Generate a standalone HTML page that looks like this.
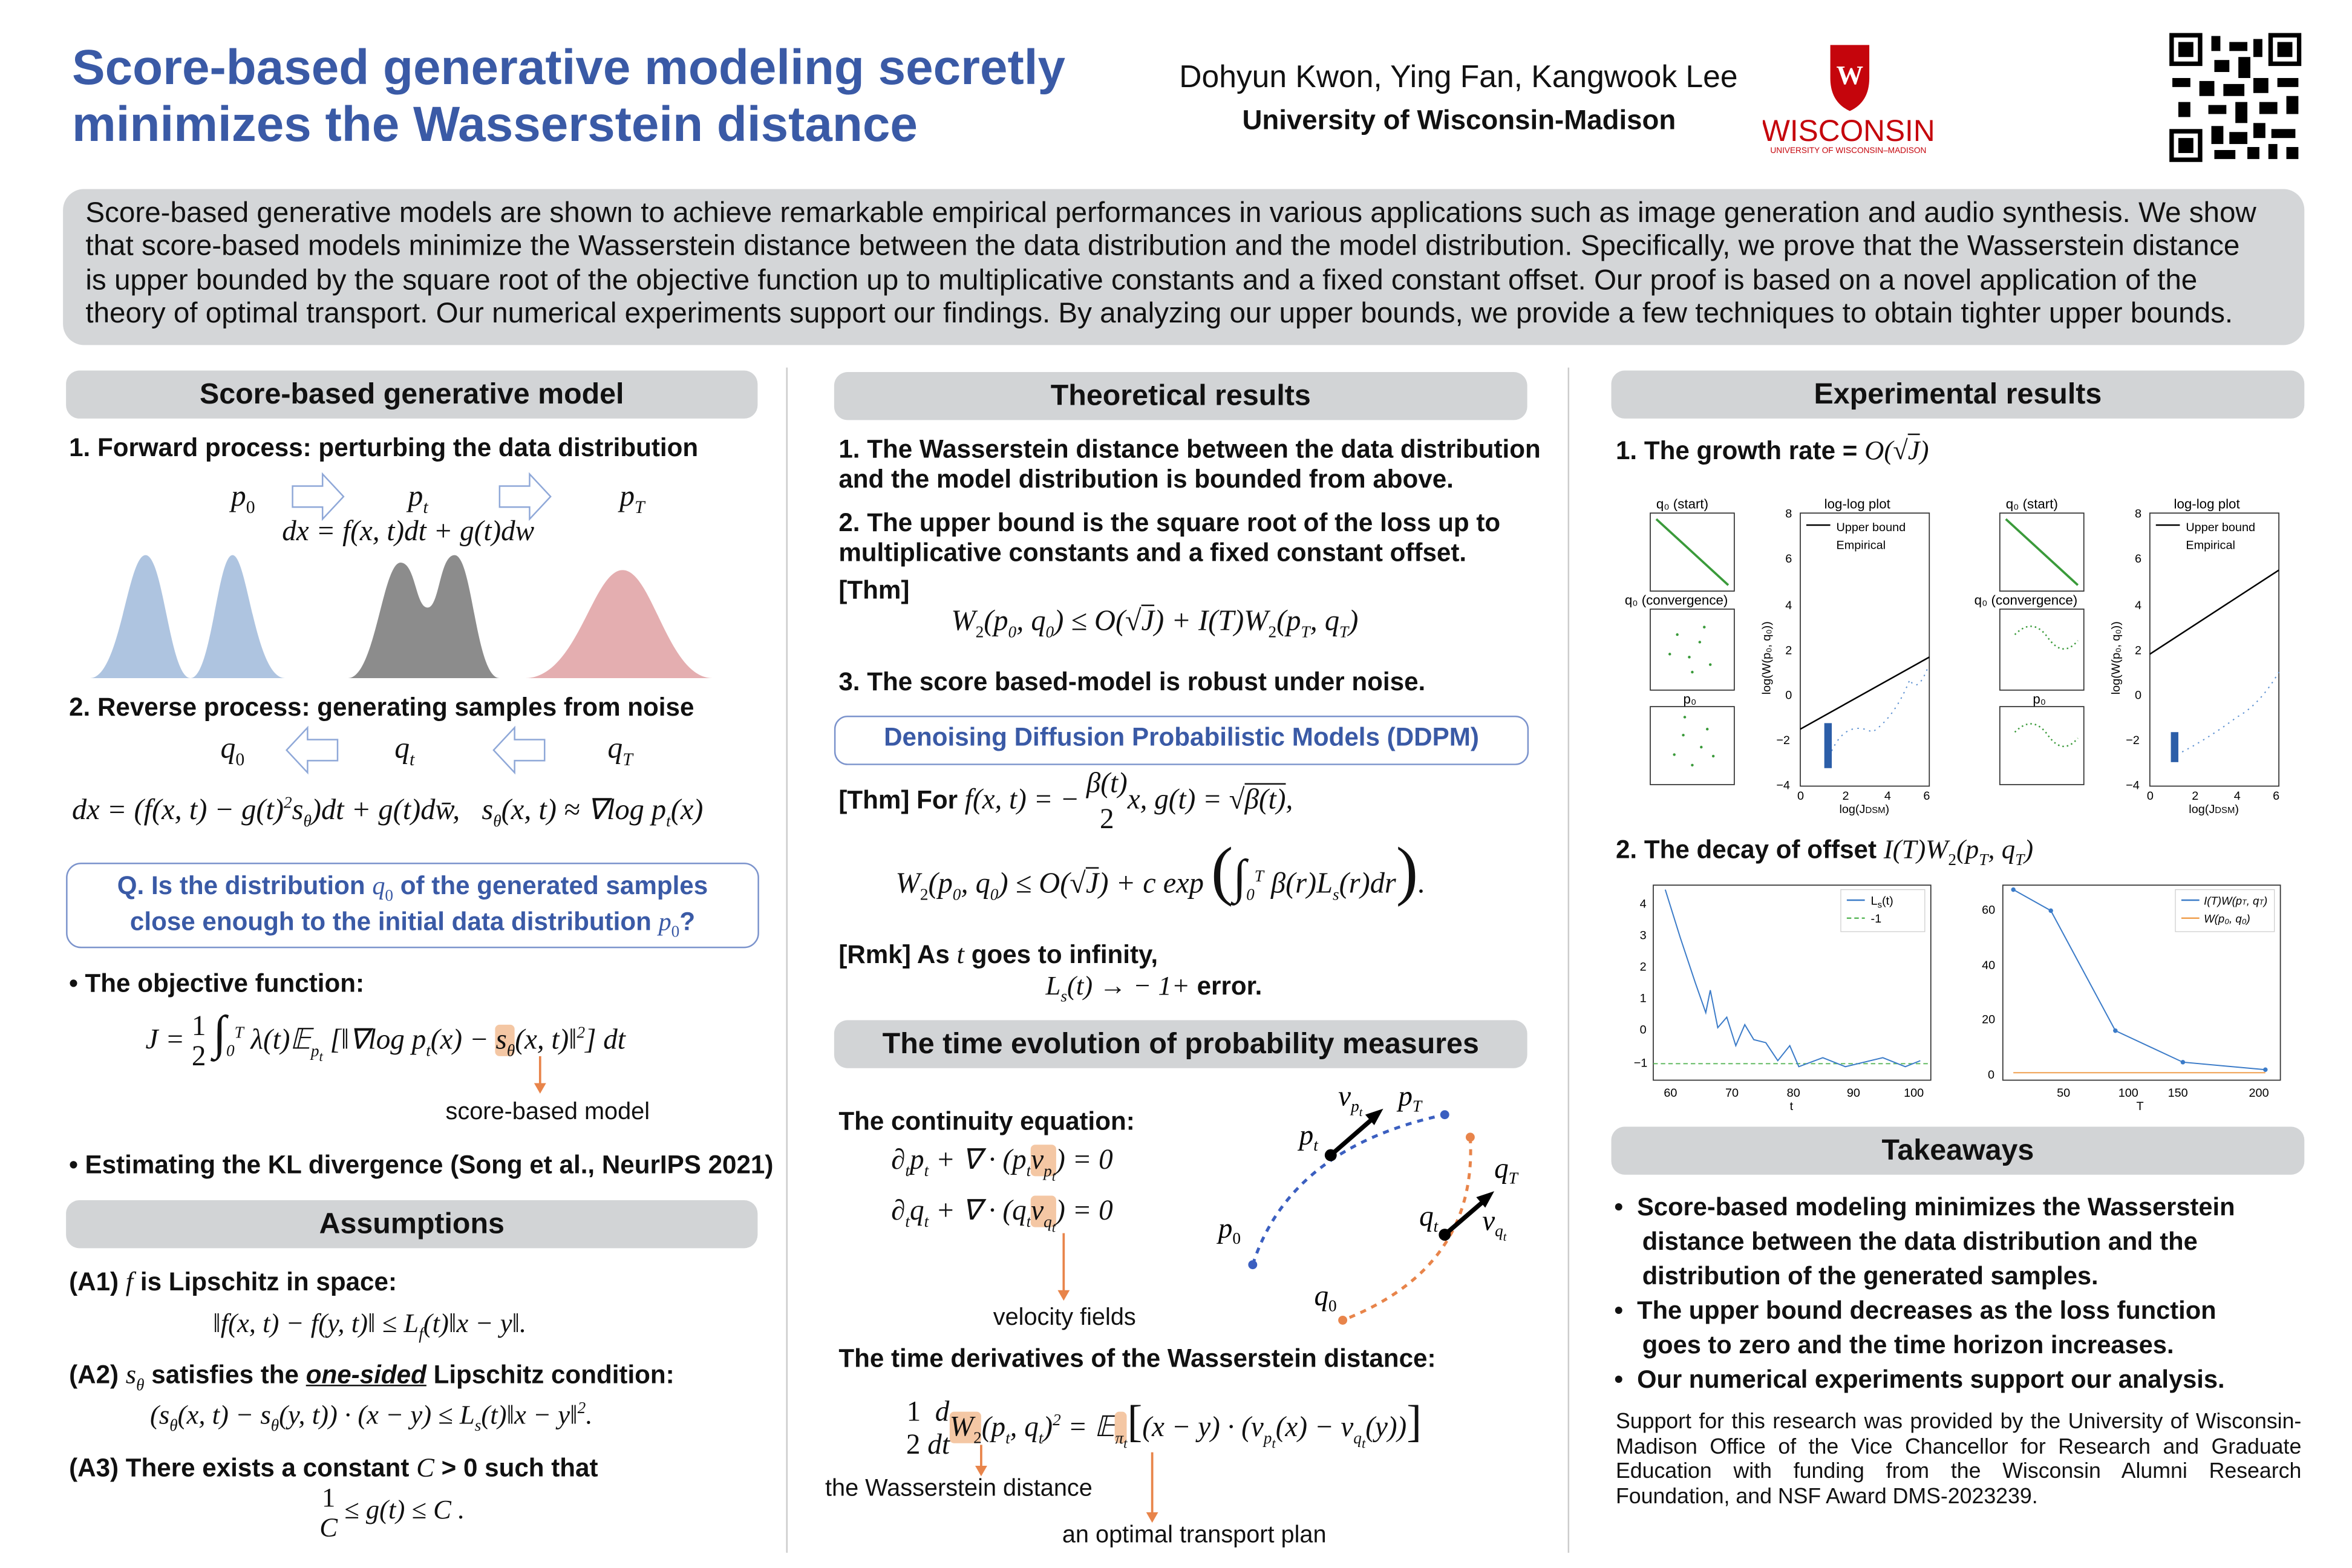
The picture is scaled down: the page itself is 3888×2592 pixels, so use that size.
<!DOCTYPE html>
<html><head><meta charset="utf-8">
<style>
html,body{margin:0;padding:0;background:#fff;width:3888px;height:2592px;overflow:hidden}
#p{position:absolute;left:0;top:0;width:1568px;height:1045px;transform:scale(2.48);transform-origin:0 0;font-family:"Liberation Sans",sans-serif;color:#111}
.a{position:absolute;white-space:nowrap}
.b{font-weight:bold}
.hd{position:absolute;background:#d2d4d6;border-radius:9px;height:32px;line-height:32px;text-align:center;font-weight:bold;font-size:19.5px}
.m{font-family:"Liberation Serif",serif;font-style:italic}
.t{font-size:17px;font-weight:bold}
.vl{position:absolute;width:1px;background:#ccc;top:245px;height:790px}
.hl{background:#f4c7a4;border-radius:3px}
</style></head><body><div id="p">
<div class="a b" style="left:48px;top:26px;font-size:33px;line-height:38px;color:#3a5aa6">Score-based generative modeling secretly<br>minimizes the Wasserstein distance</div>
<div class="a" style="left:786px;top:40px;font-size:20.8px">Dohyun Kwon, Ying Fan, Kangwook Lee</div>
<div class="a b" style="left:828px;top:69px;font-size:18.4px">University of Wisconsin-Madison</div>
<svg class="a" style="left:1175px;top:26px" width="115" height="80"><path d="M45 4 h26 v22 q0 16 -13 22 q-13 -6 -13 -22z" fill="#c5050c"/><text x="58" y="30" fill="#fff" font-size="18" font-weight="bold" text-anchor="middle" font-family="Liberation Serif">W</text><text x="57" y="68" fill="#c5050c" font-size="20" text-anchor="middle" font-family="Liberation Sans">WISCONSIN</text><text x="57" y="76" fill="#c5050c" font-size="5.5" text-anchor="middle">UNIVERSITY OF WISCONSIN–MADISON</text></svg>
<svg class="a" style="left:1446px;top:22px" width="88" height="86"><rect width="88" height="86" fill="#fff"/><g fill="#000"><rect x="0" y="0" width="22" height="22"/><rect x="66" y="0" width="22" height="22"/><rect x="0" y="64" width="22" height="22"/></g><g fill="#fff"><rect x="3" y="3" width="16" height="16"/><rect x="69" y="3" width="16" height="16"/><rect x="3" y="67" width="16" height="16"/></g><g fill="#000"><rect x="6" y="6" width="10" height="10"/><rect x="72" y="6" width="10" height="10"/><rect x="6" y="70" width="10" height="10"/><rect x="28" y="2" width="6" height="10"/><rect x="40" y="6" width="12" height="6"/><rect x="30" y="18" width="10" height="8"/><rect x="46" y="16" width="8" height="14"/><rect x="56" y="4" width="6" height="12"/><rect x="2" y="30" width="12" height="6"/><rect x="20" y="32" width="10" height="10"/><rect x="36" y="34" width="14" height="8"/><rect x="56" y="30" width="10" height="10"/><rect x="72" y="30" width="14" height="6"/><rect x="6" y="46" width="8" height="10"/><rect x="26" y="48" width="12" height="6"/><rect x="44" y="46" width="8" height="14"/><rect x="60" y="46" width="12" height="8"/><rect x="78" y="42" width="8" height="12"/><rect x="28" y="62" width="8" height="12"/><rect x="40" y="66" width="12" height="8"/><rect x="56" y="60" width="8" height="10"/><rect x="68" y="64" width="16" height="6"/><rect x="30" y="78" width="14" height="6"/><rect x="52" y="76" width="8" height="8"/><rect x="66" y="74" width="6" height="10"/><rect x="78" y="76" width="8" height="8"/></g></svg>

<div class="a" style="left:42px;top:126px;width:1494px;height:104px;background:#d4d6d8;border-radius:14px"></div>
<div class="a" style="left:57px;top:132px;font-size:19.2px;line-height:22.3px">Score-based generative models are shown to achieve remarkable empirical performances in various applications such as image generation and audio synthesis. We show<br>that score-based models minimize the Wasserstein distance between the data distribution and the model distribution. Specifically, we prove that the Wasserstein distance<br>is upper bounded by the square root of the objective function up to multiplicative constants and a fixed constant offset. Our proof is based on a novel application of the<br>theory of optimal transport. Our numerical experiments support our findings. By analyzing our upper bounds, we provide a few techniques to obtain tighter upper bounds.</div>

<div class="vl" style="left:524px"></div><div class="vl" style="left:1045px"></div>

<!-- Column 1 -->
<div class="hd" style="left:44px;top:247px;width:461px">Score-based generative model</div>
<div class="a t" style="left:46px;top:289px">1. Forward process: perturbing the data distribution</div>
<div class="a m" style="left:154px;top:320px;font-size:20px">p<sub style="font-style:normal;font-size:12px">0</sub></div>
<div class="a m" style="left:272px;top:320px;font-size:20px">p<sub style="font-size:12px">t</sub></div>
<div class="a m" style="left:413px;top:320px;font-size:20px">p<sub style="font-size:12px">T</sub></div>
<svg class="a" style="left:190px;top:314px" width="190" height="34"><path d="M5 10h20v-8l14 15-14 15v-8h-20z" fill="#fff" stroke="#8fa8d8"/><path d="M143 10h20v-8l14 15-14 15v-8h-20z" fill="#fff" stroke="#8fa8d8"/></svg>
<div class="a m" style="left:188px;top:344px;font-size:19px">dx = f(x, t)dt + g(t)dw</div>
<svg class="a" style="left:55px;top:365px" width="430" height="90"><path d="M5 87 C25 87 30 5 42 5 C54 5 58 87 72 87 C86 87 90 5 100 5 C110 5 115 87 135 87Z" fill="#aec4e0"/><path d="M177 87 C195 87 200 10 212 10 C222 10 222 40 230 40 C238 40 238 5 248 5 C260 5 262 87 278 87Z" fill="#8c8c8c"/><path d="M295 87 C330 87 340 15 360 15 C380 15 390 87 420 87Z" fill="#e4aeb0"/></svg>
<div class="a t" style="left:46px;top:462px">2. Reverse process: generating samples from noise</div>
<div class="a m" style="left:147px;top:488px;font-size:20px">q<sub style="font-style:normal;font-size:12px">0</sub></div>
<div class="a m" style="left:263px;top:488px;font-size:20px">q<sub style="font-size:12px">t</sub></div>
<div class="a m" style="left:405px;top:488px;font-size:20px">q<sub style="font-size:12px">T</sub></div>
<svg class="a" style="left:186px;top:482px" width="190" height="36"><path d="M39 11h-20v-8l-14 15 14 15v-8h20z" fill="#fff" stroke="#8fa8d8"/><path d="M177 11h-20v-8l-14 15 14 15v-8h20z" fill="#fff" stroke="#8fa8d8"/></svg>
<div class="a m" style="left:48px;top:528px;font-size:19.5px">dx = (f(x, t) − g(t)<sup style="font-size:11px">2</sup>s<sub style="font-size:11px">θ</sub>)dt + g(t)dw̄,&nbsp;&nbsp; s<sub style="font-size:11px">θ</sub>(x, t) ≈ ∇log p<sub style="font-size:11px">t</sub>(x)</div>
<div class="a" style="left:44px;top:575px;width:460px;height:55px;border:1.2px solid #7b93cc;border-radius:10px"></div>
<div class="a b" style="left:44px;top:579px;width:462px;text-align:center;font-size:17px;line-height:24px;color:#3a5aa6">Q. Is the distribution <span class="m" style="font-weight:normal">q<sub style="font-size:11px;font-style:normal;line-height:0">0</sub></span> of the generated samples<br>close enough to the initial data distribution <span class="m" style="font-weight:normal">p<sub style="font-size:11px;font-style:normal;line-height:0">0</sub></span>?</div>
<div class="a t" style="left:46px;top:646px">• The objective function:</div>
<div class="a m" style="left:97px;top:668px;font-size:19px;line-height:40px">J = <span style="display:inline-block;text-align:center;vertical-align:middle;line-height:20px;font-style:normal">1<br>2</span> <span style="font-size:32px;font-style:normal">∫</span><sub style="font-size:11px">0</sub><sup style="font-size:11px">T</sup> λ(t)𝔼<sub style="font-size:11px">p<sub>t</sub></sub> [‖∇log p<sub style="font-size:11px">t</sub>(x) − <span class="hl">s<sub style="font-size:11px">θ</sub></span>(x, t)‖<sup style="font-size:11px">2</sup>] dt</div>
<svg class="a" style="left:354px;top:704px" width="12" height="26"><path d="M6 0v20" stroke="#e8844a" stroke-width="1.5"/><path d="M2 18l4 7 4-7z" fill="#e8844a"/></svg>
<div class="a" style="left:297px;top:733px;font-size:16px">score-based model</div>
<div class="a t" style="left:46px;top:767px">• Estimating the KL divergence (Song et al., NeurIPS 2021)</div>
<div class="hd" style="left:44px;top:800px;width:461px">Assumptions</div>
<div class="a t" style="left:46px;top:844px">(A1) <span class="m" style="font-weight:normal;font-size:18px">f</span> is Lipschitz in space:</div>
<div class="a m" style="left:142px;top:872px;font-size:18px">‖f(x, t) − f(y, t)‖ ≤ L<sub style="font-size:11px">f</sub>(t)‖x − y‖.</div>
<div class="a t" style="left:46px;top:906px">(A2) <span class="m" style="font-weight:normal;font-size:18px">s<sub style="font-size:11px">θ</sub></span> satisfies the <i><u>one-sided</u></i> Lipschitz condition:</div>
<div class="a m" style="left:100px;top:933px;font-size:18px">(s<sub style="font-size:11px">θ</sub>(x, t) − s<sub style="font-size:11px">θ</sub>(y, t)) · (x − y) ≤ L<sub style="font-size:11px">s</sub>(t)‖x − y‖<sup style="font-size:11px">2</sup>.</div>
<div class="a t" style="left:46px;top:968px">(A3) There exists a constant <span class="m" style="font-weight:normal;font-size:18px">C</span> &gt; 0 such that</div>
<div class="a m" style="left:213px;top:986px;font-size:18px;line-height:40px"><span style="display:inline-block;text-align:center;vertical-align:middle;line-height:20px;font-style:normal">1<br><i>C</i></span> ≤ g(t) ≤ C .</div>

<!-- Column 2 -->
<div class="hd" style="left:556px;top:248px;width:462px">Theoretical results</div>
<div class="a t" style="left:559px;top:290px;line-height:20px">1. The Wasserstein distance between the data distribution<br>and the model distribution is bounded from above.</div>
<div class="a t" style="left:559px;top:339px;line-height:20px">2. The upper bound is the square root of the loss up to<br>multiplicative constants and a fixed constant offset.</div>
<div class="a t" style="left:559px;top:384px">[Thm]</div>
<div class="a m" style="left:634px;top:404px;font-size:19.5px">W<sub style="font-size:11px;font-style:normal">2</sub>(p<sub style="font-size:11px">0</sub>, q<sub style="font-size:11px">0</sub>) ≤ O(√<span style="text-decoration:overline">J</span>) + I(T)W<sub style="font-size:11px;font-style:normal">2</sub>(p<sub style="font-size:11px">T</sub>, q<sub style="font-size:11px">T</sub>)</div>
<div class="a t" style="left:559px;top:445px">3. The score based-model is robust under noise.</div>
<div class="a" style="left:556px;top:477px;width:461px;height:31px;border:1.2px solid #7b93cc;border-radius:9px"></div>
<div class="a b" style="left:556px;top:482px;width:463px;text-align:center;font-size:17px;color:#3a5aa6">Denoising Diffusion Probabilistic Models (DDPM)</div>
<div class="a" style="left:559px;top:510px;font-size:17px;line-height:48px"><b>[Thm] For</b> <span class="m" style="font-size:19px">f(x, t) = − <span style="display:inline-block;text-align:center;vertical-align:middle;line-height:24px">β(t)<br><span style="font-style:normal">2</span></span>x, g(t) = √<span style="text-decoration:overline">β(t)</span>,</span></div>
<div class="a m" style="left:597px;top:556px;font-size:19.5px;line-height:50px">W<sub style="font-size:11px;font-style:normal">2</sub>(p<sub style="font-size:11px">0</sub>, q<sub style="font-size:11px">0</sub>) ≤ O(√<span style="text-decoration:overline">J</span>) + c exp <span style="font-size:44px;font-style:normal">(</span><span style="font-size:32px;font-style:normal">∫</span><sub style="font-size:11px">0</sub><sup style="font-size:11px">T</sup> β(r)L<sub style="font-size:11px">s</sub>(r)dr<span style="font-size:44px;font-style:normal">)</span>.</div>
<div class="a t" style="left:559px;top:626px">[Rmk] As <span class="m" style="font-weight:normal;font-size:18px">t</span> goes to infinity,</div>
<div class="a" style="left:697px;top:647px;font-size:17px;font-weight:bold"><span class="m" style="font-weight:normal;font-size:18px">L<sub style="font-size:11px">s</sub>(t) → − 1+</span> error.</div>
<div class="hd" style="left:556px;top:680px;width:462px">The time evolution of probability measures</div>
<div class="a t" style="left:559px;top:738px">The continuity equation:</div>
<div class="a m" style="left:594px;top:762px;font-size:19px">∂<sub style="font-size:11px">t</sub>p<sub style="font-size:11px">t</sub> + ∇ · (p<sub style="font-size:11px">t</sub><span class="hl">v<sub style="font-size:11px">p<sub>t</sub></sub></span>) = 0</div>
<div class="a m" style="left:594px;top:796px;font-size:19px">∂<sub style="font-size:11px">t</sub>q<sub style="font-size:11px">t</sub> + ∇ · (q<sub style="font-size:11px">t</sub><span class="hl">v<sub style="font-size:11px">q<sub>t</sub></sub></span>) = 0</div>
<svg class="a" style="left:703px;top:822px" width="12" height="46"><path d="M6 0v40" stroke="#e8844a" stroke-width="1.5"/><path d="M2 38l4 7 4-7z" fill="#e8844a"/></svg>
<div class="a" style="left:662px;top:870px;font-size:16px">velocity fields</div>
<svg class="a" style="left:800px;top:715px" width="230" height="180">
<path d="M35 128 Q60 50 163 28" fill="none" stroke="#3b5fc0" stroke-width="2" stroke-dasharray="4,4"/>
<circle cx="35" cy="128" r="3" fill="#3b5fc0"/><circle cx="163" cy="28" r="3" fill="#3b5fc0"/>
<path d="M180 43 Q185 130 95 165" fill="none" stroke="#e8844a" stroke-width="2" stroke-dasharray="4,4"/>
<circle cx="180" cy="43" r="3" fill="#e8844a"/><circle cx="95" cy="165" r="3" fill="#e8844a"/>
<circle cx="87" cy="55" r="4" fill="#000"/><path d="M87 55L118 28" stroke="#000" stroke-width="3"/><path d="M122 24l-12 4 6 7z" fill="#000"/>
<circle cx="163" cy="108" r="4" fill="#000"/><path d="M163 108L192 83" stroke="#000" stroke-width="3"/><path d="M196 79l-12 4 6 7z" fill="#000"/>
<g font-family="Liberation Serif" font-style="italic" font-size="19"><text x="12" y="110">p<tspan font-size="11" font-style="normal" dy="4">0</tspan></text><text x="66" y="48">p<tspan font-size="11" dy="4">t</tspan></text><text x="92" y="22">v<tspan font-size="11" dy="4">p<tspan font-size="8" dy="3">t</tspan></tspan></text><text x="132" y="22">p<tspan font-size="11" dy="4">T</tspan></text><text x="196" y="70">q<tspan font-size="11" dy="4">T</tspan></text><text x="146" y="102">q<tspan font-size="11" dy="4">t</tspan></text><text x="188" y="105">v<tspan font-size="11" dy="4">q<tspan font-size="8" dy="3">t</tspan></tspan></text><text x="76" y="155">q<tspan font-size="11" font-style="normal" dy="4">0</tspan></text></g>
</svg>
<div class="a t" style="left:559px;top:896px">The time derivatives of the Wasserstein distance:</div>
<div class="a m" style="left:604px;top:922px;font-size:19px;line-height:50px"><span style="display:inline-block;text-align:center;vertical-align:middle;line-height:22px;font-style:normal">1 &nbsp;<i>d</i><br>2 <i>dt</i></span><span class="hl">W<sub style="font-size:11px;font-style:normal">2</sub></span>(p<sub style="font-size:11px">t</sub>, q<sub style="font-size:11px">t</sub>)<sup style="font-size:11px">2</sup> = 𝔼<span class="hl"><sub style="font-size:11px">π<sub>t</sub></sub></span><span style="font-size:30px;font-style:normal">[</span>(x − y) · (v<sub style="font-size:11px">p<sub>t</sub></sub>(x) − v<sub style="font-size:11px">q<sub>t</sub></sub>(y))<span style="font-size:30px;font-style:normal">]</span></div>
<svg class="a" style="left:648px;top:963px" width="12" height="22"><path d="M6 0v16" stroke="#e8844a" stroke-width="1.5"/><path d="M2 14l4 7 4-7z" fill="#e8844a"/></svg>
<svg class="a" style="left:762px;top:968px" width="12" height="48"><path d="M6 0v42" stroke="#e8844a" stroke-width="1.5"/><path d="M2 40l4 7 4-7z" fill="#e8844a"/></svg>
<div class="a" style="left:550px;top:984px;font-size:16px">the Wasserstein distance</div>
<div class="a" style="left:708px;top:1015px;font-size:16px">an optimal transport plan</div>

<!-- Column 3 -->
<div class="hd" style="left:1074px;top:247px;width:462px">Experimental results</div>
<div class="a t" style="left:1077px;top:290px">1. The growth rate = <span class="m" style="font-weight:normal;font-size:18px">O(√<span style="text-decoration:overline">J</span>)</span></div>
<svg class="a" style="left:1078px;top:328px" width="460" height="220" font-family="Liberation Sans" font-size="9">
<g id="s1">
<text x="26" y="11">q₀ (start)</text><rect x="22" y="14" width="56" height="52" fill="none" stroke="#333" stroke-width=".7"/><path d="M26 18L74 62" stroke="#3a9a3a" stroke-width="1.5"/>
<text x="5" y="75">q₀ (convergence)</text><rect x="22" y="78" width="56" height="54" fill="none" stroke="#333" stroke-width=".7"/>
<text x="44" y="141">p₀</text><rect x="22" y="143" width="56" height="52" fill="none" stroke="#333" stroke-width=".7"/>
<rect x="122" y="14" width="86" height="182" fill="none" stroke="#333" stroke-width=".7"/>
<text x="138" y="11">log-log plot</text><path d="M126 22h16" stroke="#000"/><text x="146" y="26" font-size="8">Upper bound</text><text x="146" y="38" font-size="8">Empirical</text>
<path d="M122 158L208 110" stroke="#000"/>
<path d="M140 180 q10 -30 30 -20 q15 -10 25 -35 q5 10 12 -8" fill="none" stroke="#5b8fd0" stroke-width=".8" stroke-dasharray="1,3"/>
<rect x="138" y="154" width="5" height="30" fill="#2c5ea8"/>
<g font-size="8"><text x="112" y="17">8</text><text x="112" y="47">6</text><text x="112" y="78">4</text><text x="112" y="108">2</text><text x="112" y="138">0</text><text x="106" y="168">−2</text><text x="106" y="198">−4</text><text x="120" y="205">0</text><text x="150" y="205">2</text><text x="178" y="205">4</text><text x="204" y="205">6</text><text x="148" y="214">log(J<tspan font-size="6">DSM</tspan>)</text></g>
<text transform="translate(102,135) rotate(-90)" font-size="8">log(W(p₀, q₀))</text>
</g>
<g fill="#3a9a3a"><circle cx="40" cy="95" r=".9"/><circle cx="55" cy="100" r=".9"/><circle cx="48" cy="110" r=".9"/><circle cx="62" cy="115" r=".9"/><circle cx="35" cy="108" r=".9"/><circle cx="50" cy="120" r=".9"/><circle cx="58" cy="90" r=".9"/><circle cx="44" cy="162" r=".9"/><circle cx="56" cy="170" r=".9"/><circle cx="38" cy="175" r=".9"/><circle cx="60" cy="158" r=".9"/><circle cx="50" cy="182" r=".9"/><circle cx="45" cy="150" r=".9"/><circle cx="64" cy="176" r=".9"/></g>
<g transform="translate(233,0)">
<text x="26" y="11">q₀ (start)</text><rect x="22" y="14" width="56" height="52" fill="none" stroke="#333" stroke-width=".7"/><path d="M26 18L74 62" stroke="#3a9a3a" stroke-width="1.5"/>
<text x="5" y="75">q₀ (convergence)</text><rect x="22" y="78" width="56" height="54" fill="none" stroke="#333" stroke-width=".7"/>
<path d="M32 95 q12 -12 22 2 q10 14 20 2" fill="none" stroke="#3a9a3a" stroke-dasharray="1,2"/>
<text x="44" y="141">p₀</text><rect x="22" y="143" width="56" height="52" fill="none" stroke="#333" stroke-width=".7"/>
<path d="M32 160 q12 -12 22 2 q10 14 20 2" fill="none" stroke="#3a9a3a" stroke-dasharray="1,2"/>
<rect x="122" y="14" width="86" height="182" fill="none" stroke="#333" stroke-width=".7"/>
<text x="138" y="11">log-log plot</text><path d="M126 22h16" stroke="#000"/><text x="146" y="26" font-size="8">Upper bound</text><text x="146" y="38" font-size="8">Empirical</text>
<path d="M122 108L208 52" stroke="#000"/>
<path d="M140 175 q20 -10 40 -25 q15 -8 28 -30" fill="none" stroke="#5b8fd0" stroke-width=".8" stroke-dasharray="1,3"/>
<rect x="136" y="160" width="5" height="20" fill="#2c5ea8"/>
<g font-size="8"><text x="112" y="17">8</text><text x="112" y="47">6</text><text x="112" y="78">4</text><text x="112" y="108">2</text><text x="112" y="138">0</text><text x="106" y="168">−2</text><text x="106" y="198">−4</text><text x="120" y="205">0</text><text x="150" y="205">2</text><text x="178" y="205">4</text><text x="204" y="205">6</text><text x="148" y="214">log(J<tspan font-size="6">DSM</tspan>)</text></g>
<text transform="translate(102,135) rotate(-90)" font-size="8">log(W(p₀, q₀))</text>
</g>
</svg>
<div class="a t" style="left:1077px;top:556px">2. The decay of offset <span class="m" style="font-weight:normal;font-size:18px">I(T)W<sub style="font-size:11px;font-style:normal">2</sub>(p<sub style="font-size:11px">T</sub>, q<sub style="font-size:11px">T</sub>)</span></div>
<svg class="a" style="left:1085px;top:585px" width="450" height="160" font-family="Liberation Sans" font-size="9">
<rect x="17" y="5" width="185" height="130" fill="none" stroke="#333" stroke-width=".7"/>
<path d="M17 124H202" stroke="#5cb85c" stroke-dasharray="3,2" stroke-width=".8"/>
<path d="M25 8L35 40L45 70L52 90L55 75L60 100L66 93L72 112L78 98L84 108L92 110L100 122L108 112L114 126L130 120L145 126L170 120L185 126L195 122" fill="none" stroke="#3b7bc8" stroke-width=".8"/>
<rect x="142" y="8" width="56" height="28" fill="#fff" stroke="#ccc" stroke-width=".5"/><path d="M146 15h12" stroke="#3b7bc8"/><text x="162" y="18" font-size="8">L<tspan font-size="6" dy="2">s</tspan><tspan dy="-2">(t)</tspan></text><path d="M146 27h12" stroke="#5cb85c" stroke-dasharray="3,2"/><text x="162" y="30" font-size="8">-1</text>
<g font-size="8"><text x="8" y="20">4</text><text x="8" y="41">3</text><text x="8" y="62">2</text><text x="8" y="83">1</text><text x="8" y="104">0</text><text x="4" y="126">−1</text><text x="24" y="146">60</text><text x="65" y="146">70</text><text x="106" y="146">80</text><text x="146" y="146">90</text><text x="184" y="146">100</text><text x="108" y="155">t</text></g>
<rect x="250" y="5" width="185" height="130" fill="none" stroke="#333" stroke-width=".7"/>
<path d="M257 130H425" stroke="#f0a050" stroke-width=".8"/>
<path d="M257 8L282 22L325 102L370 123L425 128" fill="none" stroke="#3b7bc8" stroke-width=".8"/>
<g fill="#3b7bc8"><circle cx="257" cy="8" r="1.5"/><circle cx="282" cy="22" r="1.5"/><circle cx="325" cy="102" r="1.5"/><circle cx="370" cy="123" r="1.5"/><circle cx="425" cy="128" r="1.5"/></g>
<rect x="365" y="8" width="66" height="28" fill="#fff" stroke="#ccc" stroke-width=".5"/><path d="M369 15h12" stroke="#3b7bc8"/><text x="384" y="18" font-size="7.5" font-style="italic">I(T)W(p<tspan font-size="5">T</tspan>, q<tspan font-size="5">T</tspan>)</text><path d="M369 27h12" stroke="#f0a050"/><text x="384" y="30" font-size="7.5" font-style="italic">W(p₀, q₀)</text>
<g font-size="8"><text x="236" y="24">60</text><text x="236" y="61">40</text><text x="236" y="97">20</text><text x="240" y="134">0</text><text x="286" y="146">50</text><text x="327" y="146">100</text><text x="360" y="146">150</text><text x="414" y="146">200</text><text x="339" y="155">T</text></g>
</svg>
<div class="hd" style="left:1074px;top:751px;width:462px">Takeaways</div>
<div class="a" style="left:1076px;top:793px;font-size:16.8px;font-weight:bold;line-height:23px">•&nbsp; Score-based modeling minimizes the Wasserstein<br>&nbsp;&nbsp;&nbsp; distance between the data distribution and the<br>&nbsp;&nbsp;&nbsp; distribution of the generated samples.<br>•&nbsp; The upper bound decreases as the loss function<br>&nbsp;&nbsp;&nbsp; goes to zero and the time horizon increases.<br>•&nbsp; Our numerical experiments support our analysis.</div>
<div class="a" style="left:1077px;top:940px;width:457px;white-space:normal;text-align:justify;font-size:14.4px;line-height:16.5px">Support for this research was provided by the University of Wisconsin-Madison Office of the Vice Chancellor for Research and Graduate Education with funding from the Wisconsin Alumni Research Foundation, and NSF Award DMS-2023239.</div>
</div></body></html>
